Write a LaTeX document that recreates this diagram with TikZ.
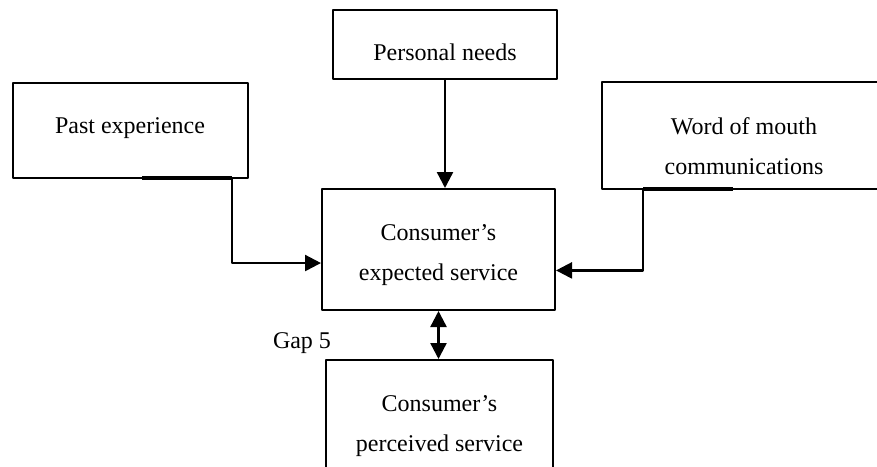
\documentclass[tikz,border=0pt]{standalone}
\usepackage{fontspec}
\setmainfont{Liberation Serif}
\usetikzlibrary{arrows.meta, calc}
\tikzset{>={Triangle[length=8pt,width=8pt]}}
\tikzset{
  factor/.style = {draw, line width=1pt, inner sep=0pt},
  caption/.style = {align=center, inner sep=0pt, font=\fontsize{12}{20}\selectfont},
  flow/.style = {->, line width=1.2pt},
  heavy/.style = {line width=2pt}
}

\begin{document}
\begin{tikzpicture}[x=0.5pt, y=-0.5pt, line join = round]
    \useasboundingbox (0,0) rectangle (877,466);
    \clip (0,0) rectangle (877,466);
    % the boxes
    \node[factor, minimum width=117.5pt, minimum height=47.5pt] (past) at (130.5,130.5) {};
    \node[factor, minimum width=112pt, minimum height=34.5pt] (needs) at (445,44.5) {};
    \node[factor, minimum width=142pt, minimum height=53.5pt] (word) at (744,135.5) {};
    \node[factor, minimum width=116.5pt, minimum height=60.5pt] (expected) at (438.5,249.5) {};
    \node[factor, minimum width=113.5pt, minimum height=62pt] (perceived) at (439.5,422) {};
    % their texts
    \node[caption] (pasttext) at (130,128.5) {Past experience};
    \node[caption] (needstext) at (445,52.5) {Personal needs};
    \node[caption] (wordtext) at (744,146) {Word of mouth\\communications};
    \node[caption] (expectedtext) at (438.5,255.5) {Consumer's\\expected service};
    \node[caption] (perceivedtext) at (439.5,426) {Consumer's\\perceived service};
    \node[caption] (gap) at (302,343) {Gap 5};

    % the connectors
    \coordinate (pastout) at (232,178);
    \coordinate (wordout) at (643,189);
    \draw[heavy] (142,178) -- (pastout);
    \draw[heavy] (wordout) -- (733,189);
    \draw[flow] (needs.south) -- (needs.south |- expected.north);
    \draw[flow] (pastout) |- ($(expected.north west)!0.61!(expected.south west)$);
    \draw[flow] (wordout) |- ($(expected.north east)!0.67!(expected.south east)$);
    \draw[<->, line width=1.2pt] (expected.south) -- (expected.south |- perceived.north);

\end{tikzpicture}
\end{document}
